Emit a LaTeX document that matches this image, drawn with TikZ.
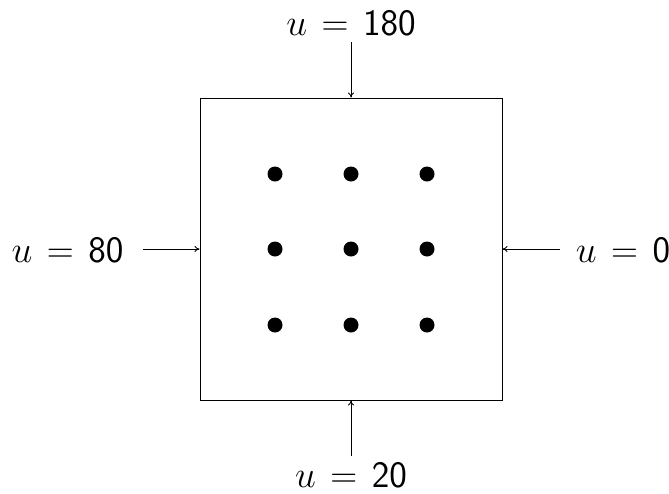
\documentclass[tikz,border=0pt]{standalone}
\usetikzlibrary{arrows.meta}
\newcommand{\eqsp}{\mskip2mu}
\begin{document}
\begin{tikzpicture}[x=1pt,y=-1pt,
  lbl/.style={anchor=base,inner sep=0pt,font=\huge},
  dot/.style={circle,fill=black,inner sep=0pt,minimum size=15pt},
  arr/.style={line width=0.8pt,-{To[length=5pt,width=6pt]}},
  plate/.style={draw,line width=1pt,minimum width=302pt,minimum height=302pt,inner sep=0pt}]
\useasboundingbox (0,0) rectangle (669,493);
\node[plate] (box) at (351,249) {};
\foreach \i/\x in {1/275,2/351,3/427}
  \foreach \j/\y in {1/174,2/249,3/325}
    \node[dot] (d\i\j) at (\x,\y) {};
\node[lbl] (top) at (351,35) {\scalebox{1.8}{$u\eqsp=\eqsp\mathsf{180}$}};
\node[lbl] (bot) at (351,487) {\scalebox{1.8}{\smash{$u\eqsp=\eqsp\mathsf{20}$}}};
\node[lbl] (lft) at (67.5,262) {\scalebox{1.8}{$u\eqsp=\eqsp\mathsf{80}$}};
\node[lbl] (rgt) at (623,262) {\scalebox{1.8}{$u\eqsp=\eqsp\mathsf{0}$}};
\coordinate (ts) at (351,42);
\coordinate (bs) at (351,456);
\coordinate (ls) at (143,249);
\coordinate (rs) at (560,249);
\draw[arr] (ts) -- (box.north);
\draw[arr] (bs) -- (box.south);
\draw[arr] (ls) -- (box.west);
\draw[arr] (rs) -- (box.east);
\end{tikzpicture}
\end{document}
